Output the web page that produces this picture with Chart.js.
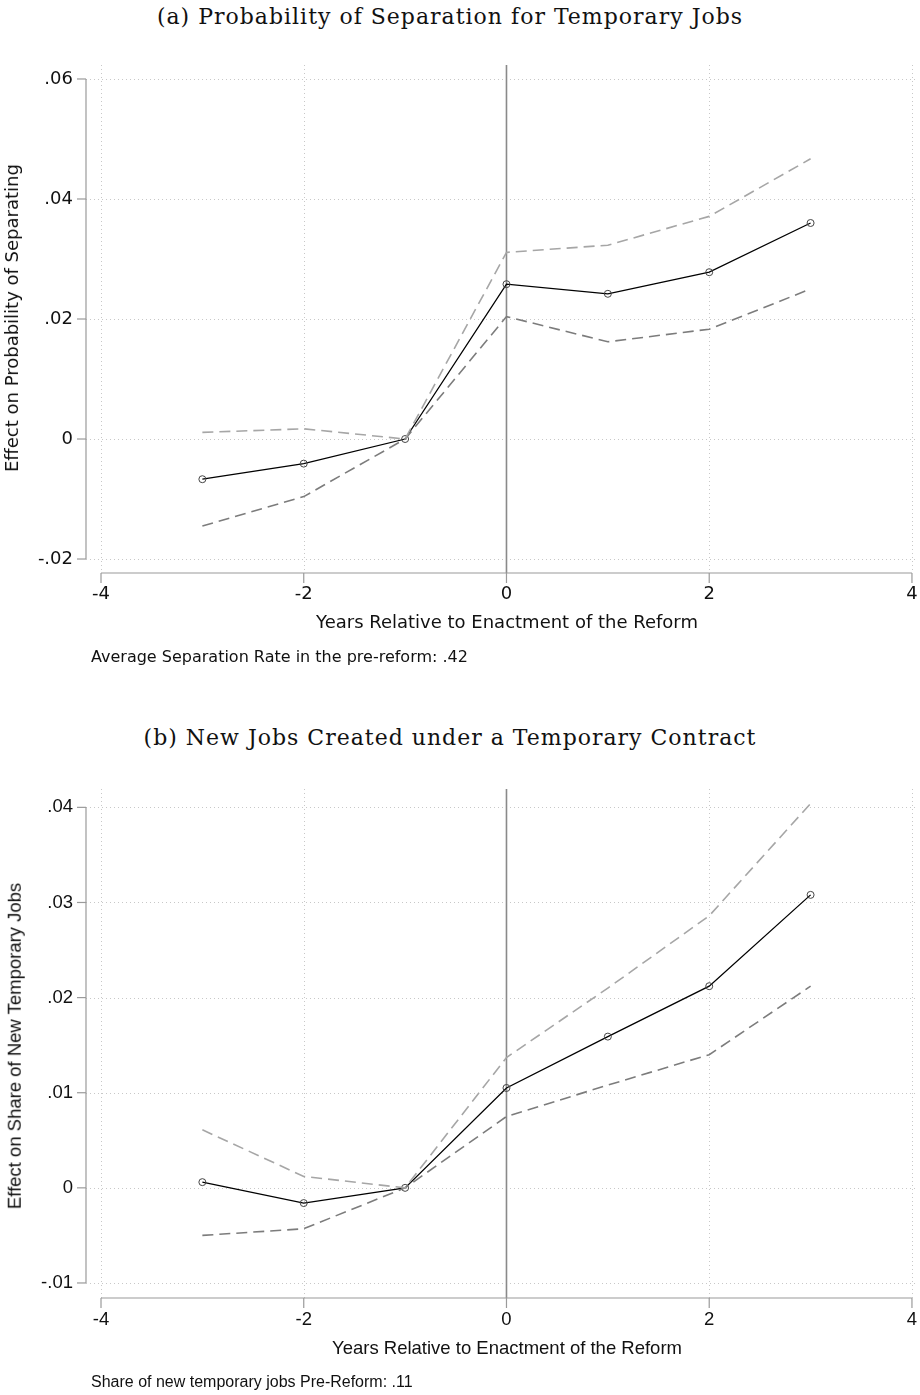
<!DOCTYPE html>
<html lang="en">
<head>
    <meta charset="UTF-8">
    <title>Event study: temporary jobs</title>
    <script src="https://cdn.jsdelivr.net/npm/chart.js"></script>
    <style>
        body {
            margin: 0;
            background: #fff;
            width: 920px;
            height: 1395px;
            position: relative;
            overflow: hidden;
        }

        .title {
            position: absolute;
            left: 0;
            width: 900px;
            text-align: center;
            font-family: "DejaVu Serif", serif;
            font-size: 22px;
            letter-spacing: 1px;
            color: #111;
            line-height: 1;
        }

        .box {
            position: absolute;
            left: 0;
            width: 920px;
        }

        .ylab, .xlab, .note {
            position: absolute;
            white-space: nowrap;
            color: #111;
            line-height: 1;
        }

        .ylab {
            transform: translate(-50%, -50%) rotate(-90deg);
        }

        .xlab {
            transform: translate(-50%, -50%);
        }

        .note {
            transform: translateY(-50%);
        }

        .fa { font-family: "DejaVu Sans", sans-serif; font-size: 18px; }
        .fb { font-family: "Liberation Sans", Arial, sans-serif; font-size: 18.5px; }
        .note.fa, .note.fb { font-size: 16px; }
    </style>
</head>
<body>
    <div class="title" style="top: 6px;">(a) Probability of Separation for Temporary Jobs</div>
    <div class="box" style="top: 40px; height: 640px;"><canvas id="chartA"></canvas></div>
    <div class="ylab fa" style="left: 12px; top: 318px;">Effect on Probability of Separating</div>
    <div class="xlab fa" style="left: 507px; top: 622px;">Years Relative to Enactment of the Reform</div>
    <div class="note fa" style="left: 91px; top: 657px;">Average Separation Rate in the pre-reform: .42</div>

    <div class="title" style="top: 727px;">(b) New Jobs Created under a Temporary Contract</div>
    <div class="box" style="top: 760px; height: 635px;"><canvas id="chartB"></canvas></div>
    <div class="ylab fb" style="left: 15px; top: 1046px;">Effect on Share of New Temporary Jobs</div>
    <div class="xlab fb" style="left: 507px; top: 1348px;">Years Relative to Enactment of the Reform</div>
    <div class="note fb" style="left: 91px; top: 1382px;">Share of new temporary jobs Pre-Reform: .11</div>

    <script>
        // years relative to the reform
        const years = [-3, -2, -1, 0, 1, 2, 3];
        const xTicks = [-4, -2, 0, 2, 4];

        // panel (a): probability of separating
        const sepCoef  = [-0.0067, -0.0041, 0, 0.0258, 0.0242, 0.0278, 0.0360];
        const sepUpper = [0.0011, 0.0017, 0, 0.0311, 0.0323, 0.0371, 0.0467];
        const sepLower = [-0.0145, -0.0096, 0, 0.0204, 0.0162, 0.0183, 0.0250];
        const sepTicks = [-0.02, 0, 0.02, 0.04, 0.06];

        // panel (b): share of new temporary jobs
        const tempCoef  = [0.0006, -0.0016, 0, 0.0105, 0.0159, 0.0212, 0.0308];
        const tempUpper = [0.0061, 0.0012, 0, 0.0137, 0.0210, 0.0286, 0.0404];
        const tempLower = [-0.0050, -0.0043, 0, 0.0075, 0.0108, 0.0140, 0.0212];
        const tempTicks = [-0.01, 0, 0.01, 0.02, 0.03, 0.04];

        function fmt(v) {
            if (Math.abs(v) < 1e-9) return '0';
            let s = String(Math.round(v * 1000) / 1000);
            return s.replace('0.', '.');
        }

        function pts(ys) {
            return years.map((x, i) => ({ x: x, y: ys[i] }));
        }

        // gridlines, zero line, axis lines and tick marks
        const frame = {
            id: 'frame',
            beforeDatasetsDraw(chart, args, opts) {
                const c = chart.ctx, a = chart.chartArea;
                const xs = chart.scales.x, ys = chart.scales.y;
                c.save();
                c.lineWidth = 1;
                c.strokeStyle = '#c8c8c8';
                c.setLineDash([1, 3]);
                opts.yTicks.forEach(v => {
                    const y = Math.round(ys.getPixelForValue(v)) + 0.5;
                    c.beginPath(); c.moveTo(a.left, y); c.lineTo(a.right, y); c.stroke();
                });
                xTicks.forEach(v => {
                    if (v === 0) return;
                    const x = Math.round(xs.getPixelForValue(v)) + 0.5;
                    c.beginPath(); c.moveTo(x, a.top); c.lineTo(x, a.bottom); c.stroke();
                });
                c.setLineDash([]);
                // reform line
                c.strokeStyle = '#8a8a8a';
                c.lineWidth = 1.6;
                const x0 = xs.getPixelForValue(0);
                c.beginPath(); c.moveTo(x0, a.top); c.lineTo(x0, a.bottom); c.stroke();
                // axes
                c.strokeStyle = '#9a9a9a';
                c.lineWidth = 1.2;
                const yTop = ys.getPixelForValue(opts.yTicks[opts.yTicks.length - 1]);
                const yBot = ys.getPixelForValue(opts.yTicks[0]);
                c.beginPath(); c.moveTo(a.left, yTop); c.lineTo(a.left, yBot); c.stroke();
                opts.yTicks.forEach(v => {
                    const y = ys.getPixelForValue(v);
                    c.beginPath(); c.moveTo(a.left - 9, y); c.lineTo(a.left, y); c.stroke();
                });
                const xL = xs.getPixelForValue(xTicks[0]);
                const xR = xs.getPixelForValue(xTicks[xTicks.length - 1]);
                c.beginPath(); c.moveTo(xL, a.bottom); c.lineTo(xR, a.bottom); c.stroke();
                xTicks.forEach(v => {
                    const x = xs.getPixelForValue(v);
                    c.beginPath(); c.moveTo(x, a.bottom); c.lineTo(x, a.bottom + 10); c.stroke();
                });
                c.restore();
            }
        };

        function makeChart(id, coef, upper, lower, yTicks, yMin, yMax, font, top, xHeight) {
            return new Chart(document.getElementById(id), {
                type: 'line',
                data: {
                    datasets: [
                        {
                            data: pts(upper),
                            borderColor: '#a6a6a6',
                            borderWidth: 1.6,
                            borderDash: [11, 6],
                            pointRadius: 0,
                            tension: 0
                        },
                        {
                            data: pts(lower),
                            borderColor: '#7c7c7c',
                            borderWidth: 1.6,
                            borderDash: [11, 6],
                            pointRadius: 0,
                            tension: 0
                        },
                        {
                            data: pts(coef),
                            borderColor: '#000',
                            borderWidth: 1.3,
                            pointRadius: 3.5,
                            pointBackgroundColor: 'rgba(255,255,255,0)',
                            pointBorderColor: '#444',
                            pointBorderWidth: 1,
                            tension: 0
                        }
                    ]
                },
                options: {
                    responsive: true,
                    maintainAspectRatio: false,
                    animation: false,
                    layout: { padding: { top: top, right: 4, left: 0, bottom: 0 } },
                    plugins: {
                        legend: { display: false },
                        tooltip: { enabled: false },
                        frame: { yTicks: yTicks }
                    },
                    scales: {
                        x: {
                            type: 'linear',
                            min: -4.148,
                            max: 4.03,
                            afterFit: s => { s.height = xHeight; s.paddingLeft = 0; s.paddingRight = 0; },
                            afterBuildTicks: s => { s.ticks = xTicks.map(v => ({ value: v })); },
                            grid: { display: false, drawTicks: false },
                            border: { display: false },
                            ticks: {
                                padding: 11,
                                color: '#111',
                                font: font,
                                callback: v => String(v)
                            }
                        },
                        y: {
                            type: 'linear',
                            min: yMin,
                            max: yMax,
                            afterFit: s => { s.width = 86; s.paddingTop = 0; s.paddingBottom = 0; },
                            afterBuildTicks: s => { s.ticks = yTicks.map(v => ({ value: v })); },
                            grid: { display: false, drawTicks: false },
                            border: { display: false },
                            ticks: {
                                padding: 13,
                                color: '#111',
                                font: font,
                                callback: v => fmt(v)
                            }
                        }
                    }
                },
                plugins: [frame]
            });
        }

        makeChart('chartA', sepCoef, sepUpper, sepLower, sepTicks, -0.02233, 0.06233,
            { family: 'DejaVu Sans', size: 18 }, 25, 107);
        makeChart('chartB', tempCoef, tempUpper, tempLower, tempTicks, -0.01158, 0.04193,
            { family: 'Liberation Sans', size: 18.5 }, 29, 97);
    </script>
</body>
</html>
